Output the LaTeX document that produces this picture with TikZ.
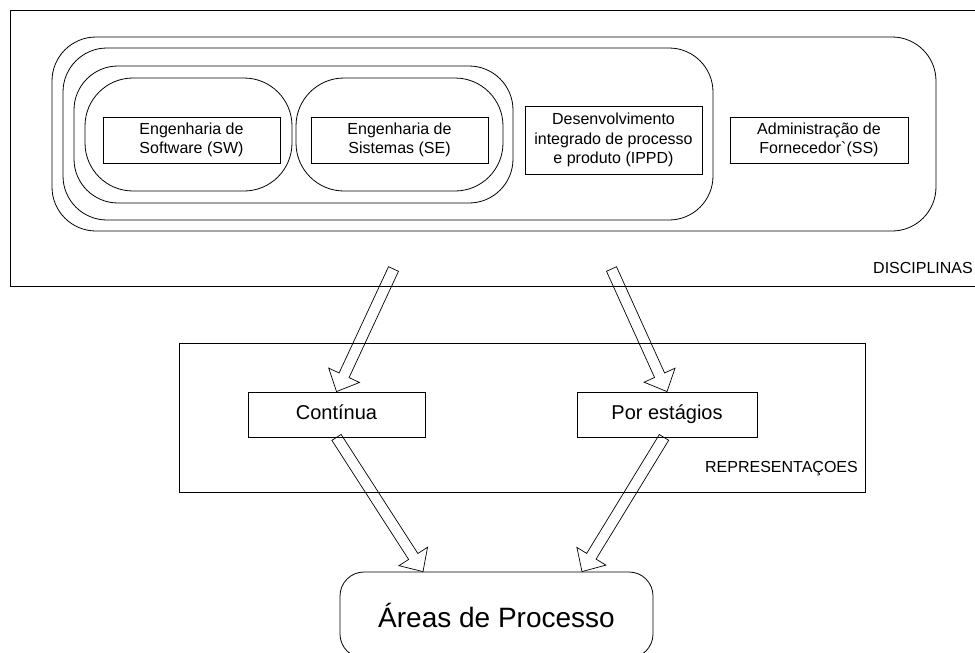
\documentclass[tikz,border=0pt]{standalone}
\usepackage{fontspec}
\setmainfont{Liberation Sans}[Ligatures=TeXOff]
\usetikzlibrary{calc}

\tikzset{
  x=1pt, y=-1pt,
  frame/.style={draw, line width=0.8pt},
  box/.style={draw, rectangle, line width=0.8pt, minimum width=177pt, minimum height=46pt,
    inner sep=0pt, align=center, font=\fontsize{16}{19.5}\selectfont},
  repbox/.style={box, minimum height=45pt, text height=14.5pt, text depth=4.5pt,
    font=\fontsize{20}{24}\selectfont},
  tag/.style={inner sep=0pt, font=\fontsize{16}{19.5}\selectfont},
  hollow/.style={draw, line width=0.7pt, line join=miter},
}

% open block arrow from #1 (tail) to #2 (tip)
\newcommand\hollowarrow[2]{%
  \coordinate (ha-neck) at ($(#2)!18pt!(#1)$);
  \draw[hollow] ($(#1)!5.5pt!90:(#2)$) -- ($(ha-neck)!5.5pt!-90:(#1)$)
    -- ($(ha-neck)!17pt!-90:(#1)$) -- (#2) -- ($(ha-neck)!17pt!90:(#1)$)
    -- ($(ha-neck)!5.5pt!90:(#1)$) -- ($(#1)!5.5pt!-90:(#2)$) -- cycle;
}

\begin{document}
\begin{tikzpicture}
\useasboundingbox (0,0) rectangle (975,653);
\clip (0,0) rectangle (975,653);

% disciplines
\draw[frame] (10,10) rectangle (995,286);
\node[tag, anchor=east] (disc) at (973,268) {DISCIPLINAS};
\draw[frame, rounded corners=44pt] (52,37) rectangle (936,231);
\draw[frame, rounded corners=44pt] (63,48) rectangle (713,220);
\draw[frame, rounded corners=44pt] (74,66) rectangle (513,203);
\draw[frame, rounded corners=48pt] (85,78) rectangle (292,191);
\draw[frame, rounded corners=48pt] (296,78) rectangle (503,191);

\node[box] (sw) at (191.5,140) {Engenharia de\\Software (SW)};
\node[box] (se) at (399.5,140) {Engenharia de\\Sistemas (SE)};
\node[box, minimum height=68pt] (ippd) at (613.5,140) {Desenvolvimento\\integrado de processo\\e produto (IPPD)};
\node[box, minimum width=178pt] (ss) at (819,140) {Administração de\\Fornecedor`(SS)};

% representations
\node[frame, rectangle, minimum width=686pt, minimum height=149pt, inner sep=0pt] (rep) at (522,417.5) {};
\node[tag, anchor=east] (replab) at (858,469) {REPRESENTAÇOES};
\node[repbox] (cont) at (336.5,414.5) {Contínua};
\node[repbox, minimum width=180pt] (est) at (667,414.5) {Por estágios};

% process areas
\node[draw, line width=0.8pt, rounded corners=24pt, minimum width=313pt, minimum height=86pt,
  inner sep=0pt, font=\fontsize{28}{32}\selectfont] (areas) at (496.5,615) {Áreas de Processo};

% arrows
\coordinate (t1) at (393.5,269);
\coordinate (t2) at (611.5,269);
\hollowarrow{t1}{cont.north}
\hollowarrow{t2}{est.north}
\coordinate (a3) at ([xshift=-73.5pt]areas.north);
\coordinate (a4) at ([xshift=85.5pt]areas.north);
\coordinate (s4) at ([xshift=-3pt]est.south);
\hollowarrow{cont.south}{a3}
\hollowarrow{s4}{a4}
\end{tikzpicture}
\end{document}
